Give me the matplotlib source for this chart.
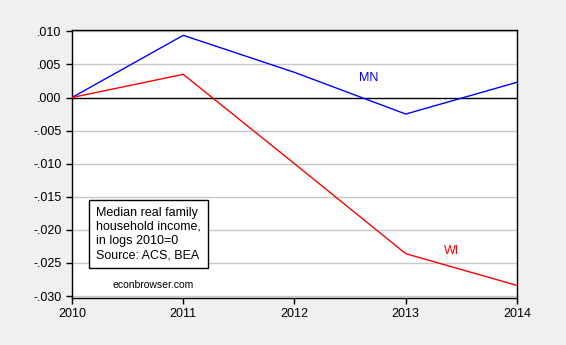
import matplotlib
matplotlib.use("Agg")
import matplotlib.pyplot as plt

plt.rcParams['font.family'] = ['Liberation Sans', 'DejaVu Sans']

years = [2010, 2011, 2012, 2013, 2014]
mn = [0.0, 0.0094, 0.0038, -0.0025, 0.0023]
wi = [0.0, 0.0035, -0.0100, -0.0236, -0.0284]
yticks = [0.010, 0.005, 0.0, -0.005, -0.010, -0.015, -0.020, -0.025, -0.030]
ytick_labels = ['.010', '.005', '.000', '-.005', '-.010', '-.015', '-.020', '-.025', '-.030']

fig = plt.figure(figsize=(5.66, 3.45), dpi=100, facecolor='#f0f0f0')
ax = fig.add_axes([0.1272, 0.1362, 0.7862, 0.7768])
ax.set_facecolor('white')

for y in yticks:
    if y != 0:
        ax.axhline(y, color='#c8c8c8', lw=1, zorder=1)
ax.axhline(0, color='black', lw=1, zorder=2)

ax.plot(years, mn, color='blue', lw=1, zorder=3)
ax.plot(years, wi, color='red', lw=1, zorder=3)

ax.set_xlim(2010, 2014)
ax.set_ylim(-0.0303, 0.0102)
ax.set_xticks(years)
ax.set_xticklabels([str(y) for y in years], fontsize=9)
ax.set_yticks(yticks)
ax.set_yticklabels(ytick_labels, fontsize=9)
ax.tick_params(direction='out', length=4, width=1, colors='black')
for s in ax.spines.values():
    s.set_linewidth(1)

ax.text(2012.58, 0.0029, 'MN', color='blue', fontsize=9, va='center', ha='left')
ax.text(2013.34, -0.0232, 'WI', color='red', fontsize=9, va='center', ha='left')

ax.text(0.054, 0.239,
        'Median real family\nhousehold income,\nin logs 2010=0\nSource: ACS, BEA',
        transform=ax.transAxes, fontsize=9, va='center', ha='left', linespacing=1.25,
        bbox=dict(boxstyle='square,pad=0.55', facecolor='white', edgecolor='black', lw=1))
ax.text(0.09, 0.049, 'econbrowser.com', transform=ax.transAxes, fontsize=7.5, va='center', ha='left')

fig.savefig('out.png', dpi=100, facecolor=fig.get_facecolor())
